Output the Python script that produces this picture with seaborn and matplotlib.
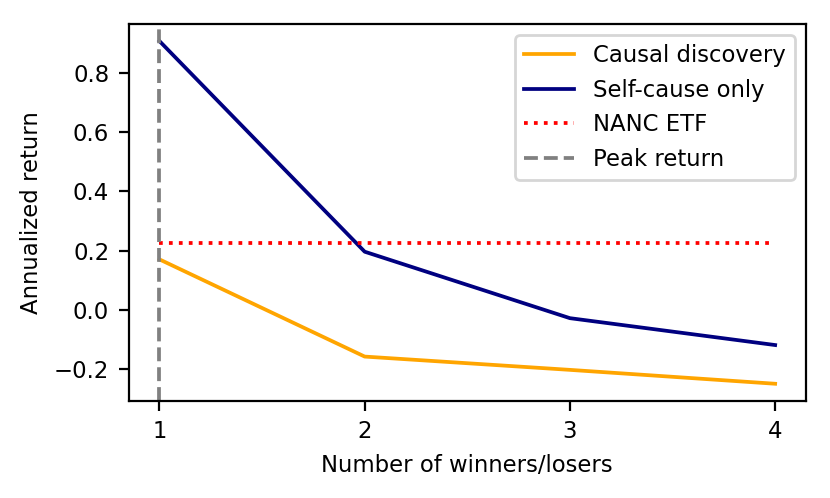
import matplotlib
matplotlib.use("Agg")
import matplotlib.pyplot as plt
import seaborn as sns
import pandas as pd

# values
n_winners = [1, 2, 3, 4]
causal_discovery = [0.170, -0.159, -0.204, -0.251]
self_cause_only = [0.909, 0.196, -0.029, -0.120]
nanc_etf = 0.224
peak_n = 1

df = pd.DataFrame({
    "n": n_winners + n_winners,
    "ret": causal_discovery + self_cause_only,
    "series": ["Causal discovery"] * 4 + ["Self-cause only"] * 4,
})

plt.rcParams["font.family"] = ["DejaVu Sans"]
plt.rcParams["font.size"] = 8.2

lw = 1.35
fig, ax = plt.subplots(figsize=(4.15, 2.49), dpi=200)
sns.lineplot(data=df, x="n", y="ret", hue="series",
             palette={"Causal discovery": "orange", "Self-cause only": "navy"},
             ax=ax, linewidth=lw)
ax.plot(n_winners, [nanc_etf] * len(n_winners), color="red", linestyle=":",
        linewidth=lw, label="NANC ETF")
ax.axvline(peak_n, color="gray", linestyle="--", linewidth=lw, label="Peak return")

ax.set_xticks(n_winners)
ax.set_xlabel("Number of winners/losers")
ax.set_ylabel("Annualized return")
ax.legend(loc="upper right", handlelength=2.2)

fig.subplots_adjust(left=0.155, right=0.971, top=0.952, bottom=0.195)
fig.savefig("out.png", dpi=200)
